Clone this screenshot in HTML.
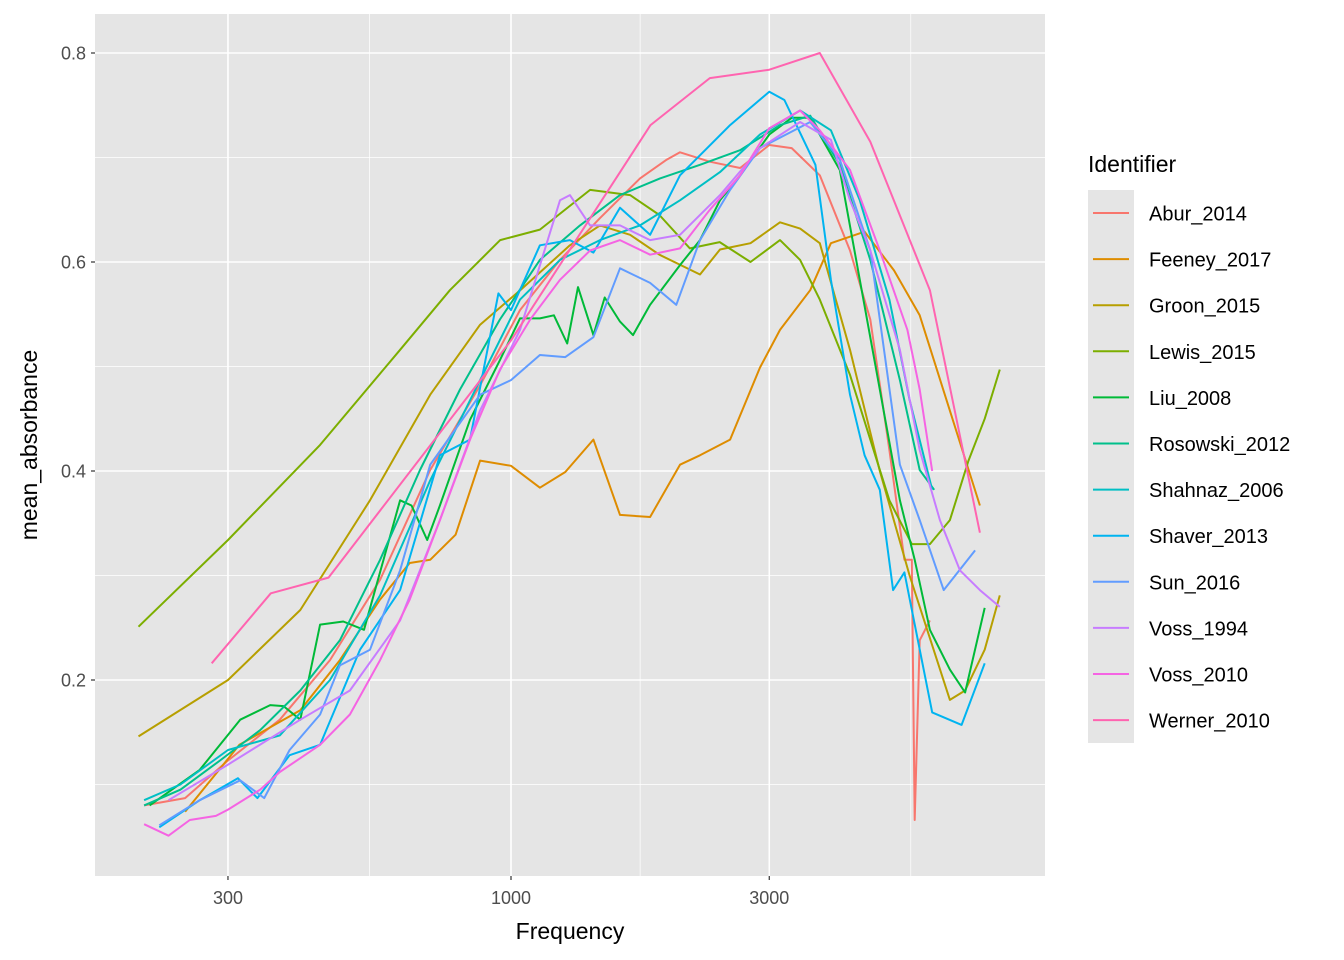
<!DOCTYPE html>
<html><head><meta charset="utf-8">
<style>
html,body{margin:0;padding:0;background:#fff;}
svg{display:block;font-family:"Liberation Sans",Arial,sans-serif;}
</style></head>
<body>
<svg id="chart" width="1344" height="960" viewBox="0 0 1344 960"></svg>
<script>
const seriesNames = ["Abur_2014","Feeney_2017","Groon_2015","Lewis_2015","Liu_2008","Rosowski_2012","Shahnaz_2006","Shaver_2013","Sun_2016","Voss_1994","Voss_2010","Werner_2010"];
const seriesColors = ["#F8766D","#DE8C00","#B79F00","#7CAE00","#00BA38","#00C08B","#00BFC4","#00B4F0","#619CFF","#C77CFF","#F564E3","#FF64B0"];
const xTicks = [300,1000,3000];
const xTickLabels = ["300","1000","3000"];
const xMinor = [164,548,1732,5477];
const yTicks = [0.2,0.4,0.6,0.8];
const yTickLabels = ["0.2","0.4","0.6","0.8"];
const yMinor = [0.1,0.3,0.5,0.7];

const aburF = [210,250,300,374,463,573,709,877,1039,1232,1460,1731,1940,2052,2330,2650,3000,3300,3720,4230,4610,5000,5330,5500,5570,5690,5940];
const aburV = [0.08,0.087,0.123,0.162,0.219,0.296,0.401,0.482,0.554,0.602,0.642,0.68,0.698,0.705,0.696,0.69,0.712,0.709,0.683,0.611,0.545,0.42,0.315,0.315,0.066,0.238,0.257];
const feeneyF = [250,315,408,483,573,650,709,790,877,1000,1131,1260,1420,1590,1807,2052,2234,2540,2884,3140,3570,3900,4500,5100,5690,7350];
const feeneyV = [0.074,0.138,0.171,0.219,0.277,0.312,0.315,0.339,0.41,0.405,0.384,0.399,0.43,0.358,0.356,0.406,0.415,0.43,0.499,0.535,0.573,0.618,0.629,0.592,0.549,0.367];
const groonF = [205,300,408,549,709,877,1040,1285,1460,1660,1880,2234,2433,2770,3140,3420,3720,4230,4800,5450,5940,6470,6900,7500,8000];
const groonV = [0.146,0.2,0.267,0.372,0.473,0.54,0.573,0.616,0.635,0.626,0.607,0.588,0.612,0.618,0.638,0.632,0.618,0.516,0.4,0.3,0.24,0.181,0.19,0.229,0.281];
const lewisF = [205,300,444,624,771,955,1131,1400,1660,1880,2140,2430,2770,3140,3420,3720,4230,4610,5000,5500,5940,6470,7000,7500,8000];
const lewisV = [0.251,0.334,0.425,0.516,0.573,0.621,0.631,0.669,0.664,0.645,0.613,0.619,0.6,0.621,0.602,0.564,0.492,0.43,0.372,0.33,0.33,0.353,0.41,0.45,0.497];
const liuF = [215,266,316,359,380,408,444,490,535,624,655,700,739,840,954,1039,1131,1200,1270,1330,1420,1490,1590,1680,1807,2052,2234,2433,2650,3000,3300,3570,4050,4410,4800,5230,5570,5940,6470,6900,7500];
const liuV = [0.08,0.114,0.162,0.176,0.175,0.162,0.253,0.256,0.248,0.372,0.367,0.334,0.367,0.449,0.506,0.546,0.546,0.549,0.522,0.576,0.53,0.566,0.543,0.53,0.559,0.597,0.621,0.659,0.683,0.722,0.738,0.738,0.688,0.583,0.478,0.372,0.315,0.248,0.21,0.188,0.269];
const rosowskiF = [210,245,290,344,408,483,573,679,805,954,1131,1341,1590,1885,2234,2650,3140,3570,4050,4610,5230,5690,6050];
const rosowskiV = [0.08,0.095,0.123,0.152,0.19,0.238,0.315,0.401,0.478,0.545,0.602,0.635,0.664,0.68,0.693,0.707,0.731,0.74,0.693,0.602,0.487,0.401,0.382];
const shahnazF = [210,245,300,374,463,573,709,877,1039,1232,1460,1731,2052,2433,2884,3420,3900,4410,5000,5450,6000];
const shahnazV = [0.085,0.1,0.133,0.147,0.2,0.281,0.391,0.487,0.564,0.602,0.621,0.635,0.659,0.686,0.722,0.745,0.726,0.659,0.564,0.468,0.382];
const shaverF = [224,266,313,340,390,444,526,624,739,840,948,1000,1131,1285,1420,1590,1807,2052,2540,3000,3200,3650,3900,4230,4500,4800,5080,5330,6000,6800,7500];
const shaverV = [0.059,0.085,0.106,0.087,0.128,0.138,0.229,0.286,0.415,0.43,0.57,0.554,0.616,0.621,0.609,0.652,0.626,0.683,0.731,0.763,0.755,0.693,0.583,0.473,0.415,0.382,0.286,0.303,0.169,0.157,0.216];
const sunF = [224,266,316,350,390,444,483,549,624,709,877,1000,1131,1260,1420,1590,1807,2020,2234,2540,2884,3570,4050,4610,5230,5690,6300,7200];
const sunV = [0.061,0.085,0.104,0.087,0.133,0.167,0.214,0.229,0.305,0.406,0.473,0.487,0.511,0.509,0.528,0.594,0.58,0.559,0.621,0.669,0.709,0.734,0.698,0.611,0.406,0.353,0.286,0.324];
const voss94F = [233,300,408,504,624,739,877,1039,1232,1285,1400,1590,1807,2052,2433,2884,3420,3900,4230,4610,5230,5690,6200,6750,7350,8000];
const voss94V = [0.085,0.119,0.162,0.19,0.257,0.353,0.458,0.535,0.659,0.664,0.635,0.635,0.621,0.626,0.664,0.709,0.734,0.717,0.659,0.611,0.516,0.42,0.353,0.305,0.286,0.27];
const voss10F = [210,233,255,285,300,344,374,444,504,573,650,739,840,954,1085,1232,1400,1590,1807,2052,2330,2650,3000,3420,3720,4230,4800,5400,5690,6000];
const voss10V = [0.062,0.051,0.066,0.07,0.076,0.095,0.112,0.138,0.167,0.219,0.277,0.353,0.43,0.497,0.545,0.583,0.611,0.621,0.607,0.613,0.65,0.683,0.728,0.745,0.726,0.688,0.611,0.535,0.478,0.4];
const wernerF = [280,360,460,1000,1810,2330,3000,3720,4610,5940,7350];
const wernerV = [0.216,0.283,0.298,0.525,0.731,0.776,0.784,0.8,0.715,0.573,0.341];

const seriesF = [aburF,feeneyF,groonF,lewisF,liuF,rosowskiF,shahnazF,shaverF,sunF,voss94F,voss10F,wernerF];
const seriesV = [aburV,feeneyV,groonV,lewisV,liuV,rosowskiV,shahnazV,shaverV,sunV,voss94V,voss10V,wernerV];

const PL=95, PR=1045, PT=14, PB=876;
function xs(f){ return 511 + 541.3*Math.log10(f/1000); }
function ys(v){ return 680 - (v-0.2)*1045; }
const NS="http://www.w3.org/2000/svg";
const svg=document.getElementById('chart');
function mk(tag,attrs,parent){ const e=document.createElementNS(NS,tag); for(const k in attrs) e.setAttribute(k,attrs[k]); (parent||svg).appendChild(e); return e; }

const bg=mk('rect',{x:PL,y:PT,width:PR-PL,height:PB-PT,fill:'#E5E5E5'});


const grid=mk('g',{});


xMinor.forEach(f=>mk('line',{x1:xs(f),x2:xs(f),y1:PT,y2:PB,stroke:'#fff','stroke-width':0.7},grid));
yMinor.forEach(v=>mk('line',{x1:PL,x2:PR,y1:ys(v),y2:ys(v),stroke:'#fff','stroke-width':0.7},grid));
xTicks.forEach(f=>mk('line',{x1:xs(f),x2:xs(f),y1:PT,y2:PB,stroke:'#fff','stroke-width':1.6},grid));
yTicks.forEach(v=>mk('line',{x1:PL,x2:PR,y1:ys(v),y2:ys(v),stroke:'#fff','stroke-width':1.6},grid));

const xt=mk('g',{});


xTicks.forEach((f,i)=>{
  mk('line',{x1:xs(f),x2:xs(f),y1:PB,y2:PB+4,stroke:'#333','stroke-width':1.2},xt);
  const t=mk('text',{x:xs(f),y:PB+28,'text-anchor':'middle','font-size':18,fill:'#4D4D4D'},xt);
  t.textContent=xTickLabels[i];
});
const yt=mk('g',{});


yTicks.forEach((v,i)=>{
  mk('line',{x1:PL-4,x2:PL,y1:ys(v),y2:ys(v),stroke:'#333','stroke-width':1.2},yt);
  const t=mk('text',{x:PL-9,y:ys(v)+6.5,'text-anchor':'end','font-size':18,fill:'#4D4D4D'},yt);
  t.textContent=yTickLabels[i];
});
const xl=mk('text',{x:570,y:939,'text-anchor':'middle','font-size':23,fill:'#000'});
xl.textContent='Frequency';


const yl=mk('text',{x:0,y:0,'text-anchor':'middle','font-size':23,fill:'#000',transform:'translate(37,445) rotate(-90)'});
yl.textContent='mean_absorbance';



const lines=mk('g',{});


seriesNames.forEach((n,i)=>{
  const d=seriesF[i].map((f,j)=>(j?'L':'M')+xs(f).toFixed(1)+','+ys(seriesV[i][j]).toFixed(1)).join('');
  const p=mk('path',{d:d,fill:'none',stroke:seriesColors[i],'stroke-width':2,'stroke-linejoin':'round'},lines);
  
  
});

const lg=mk('g',{});


const lt=mk('text',{x:1088,y:172,'font-size':23,fill:'#000'},lg);
lt.textContent='Identifier';


mk('rect',{x:1088,y:190,width:46,height:553,fill:'#E5E5E5'},lg);
seriesNames.forEach((n,i)=>{
  const cy=213+i*46.1;
  const e=mk('g',{},lg);
  
  
  mk('line',{x1:1093,x2:1129,y1:cy,y2:cy,stroke:seriesColors[i],'stroke-width':2},e);
  const t=mk('text',{x:1149,y:cy+7.5,'font-size':20,fill:'#000'},e);
  t.textContent=n;
});
</script>
</body></html>
